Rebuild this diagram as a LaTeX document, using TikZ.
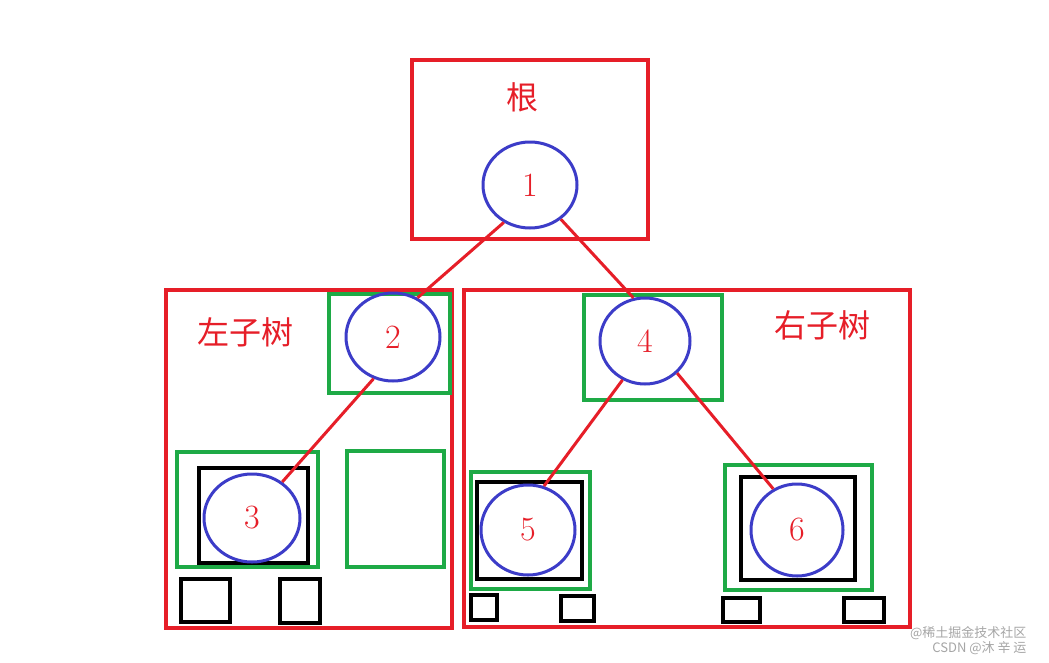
\documentclass[tikz,border=0pt]{standalone}
\usepackage{fontspec}
\newfontfamily\cjk{Noto Sans CJK SC}
\usetikzlibrary{shapes.geometric}
\definecolor{rr}{RGB}{230,30,40}
\definecolor{gg}{RGB}{30,170,70}
\definecolor{bb}{RGB}{60,60,200}
\tikzset{redbox/.style={draw=rr,line width=3.5pt},
grnbox/.style={draw=gg,line width=3.5pt},
blkbox/.style={draw=black,line width=3.5pt},
circ/.style={ellipse,draw=bb,line width=3pt,inner sep=0pt,text=rr,font=\fontsize{34}{34}\selectfont},
lbl/.style={text=rr,font=\cjk\fontsize{32}{32}\selectfont},
edge/.style={draw=rr,line width=3pt}}
\begin{document}
\begin{tikzpicture}[x=1pt,y=-1pt]
\useasboundingbox[fill=white] (0,0) rectangle (1049,662);
\draw[redbox] (412,60) rectangle (648,239);
\draw[redbox] (166,290) rectangle (452,628);
\draw[redbox] (464,290) rectangle (910,627);
\node[lbl] (tr) at (522,97) {根};
\node[lbl] (tl) at (245,332) {左子树};
\node[lbl] (tri) at (822,325) {右子树};
\draw[grnbox] (329,294) rectangle (450,393);
\draw[grnbox] (177,452) rectangle (318,567);
\draw[blkbox] (199,468) rectangle (308,563);
\draw[grnbox] (347,451) rectangle (444,567);
\draw[blkbox] (181,579) rectangle (230,622);
\draw[blkbox] (280,579) rectangle (320,623);
\draw[grnbox] (584,295) rectangle (722,400);
\draw[grnbox] (471,472) rectangle (590,589);
\draw[blkbox] (477,482) rectangle (582,579);
\draw[grnbox] (725,465) rectangle (872,590);
\draw[blkbox] (741,477) rectangle (855,580);
\draw[blkbox] (471,595) rectangle (497,620);
\draw[blkbox] (561,596) rectangle (594,621);
\draw[blkbox] (723,598) rectangle (760,622);
\draw[blkbox] (844,598) rectangle (884,622);
\node[circ,minimum width=94pt,minimum height=86pt] (n1) at (530,185) {1};
\node[circ,minimum width=94pt,minimum height=88pt] (n2) at (393,337) {2};
\node[circ,minimum width=96pt,minimum height=88pt] (n3) at (252,518) {3};
\node[circ,minimum width=90pt,minimum height=86pt] (n4) at (645,341) {4};
\node[circ,minimum width=94pt,minimum height=90pt] (n5) at (528,530) {5};
\node[circ,minimum width=92pt,minimum height=92pt] (n6) at (797,530) {6};
\draw[edge] (n1.-125) -- (n2.58);
\draw[edge] (n1.-48) -- (n4.105);
\draw[edge] (n2.-115) -- (n3.50);
\draw[edge] (n4.-120) -- (n5.70);
\draw[edge] (n4.-45) -- (n6.120);
\node[text=gray!70,font=\cjk\fontsize{13}{13}\selectfont,anchor=east] (w1) at (1030,633) {@稀土掘金技术社区};
\node[text=gray!70,font=\cjk\fontsize{13}{13}\selectfont,anchor=east] (w2) at (1030,648) {CSDN @沐 辛 运};
\end{tikzpicture}
\end{document}
